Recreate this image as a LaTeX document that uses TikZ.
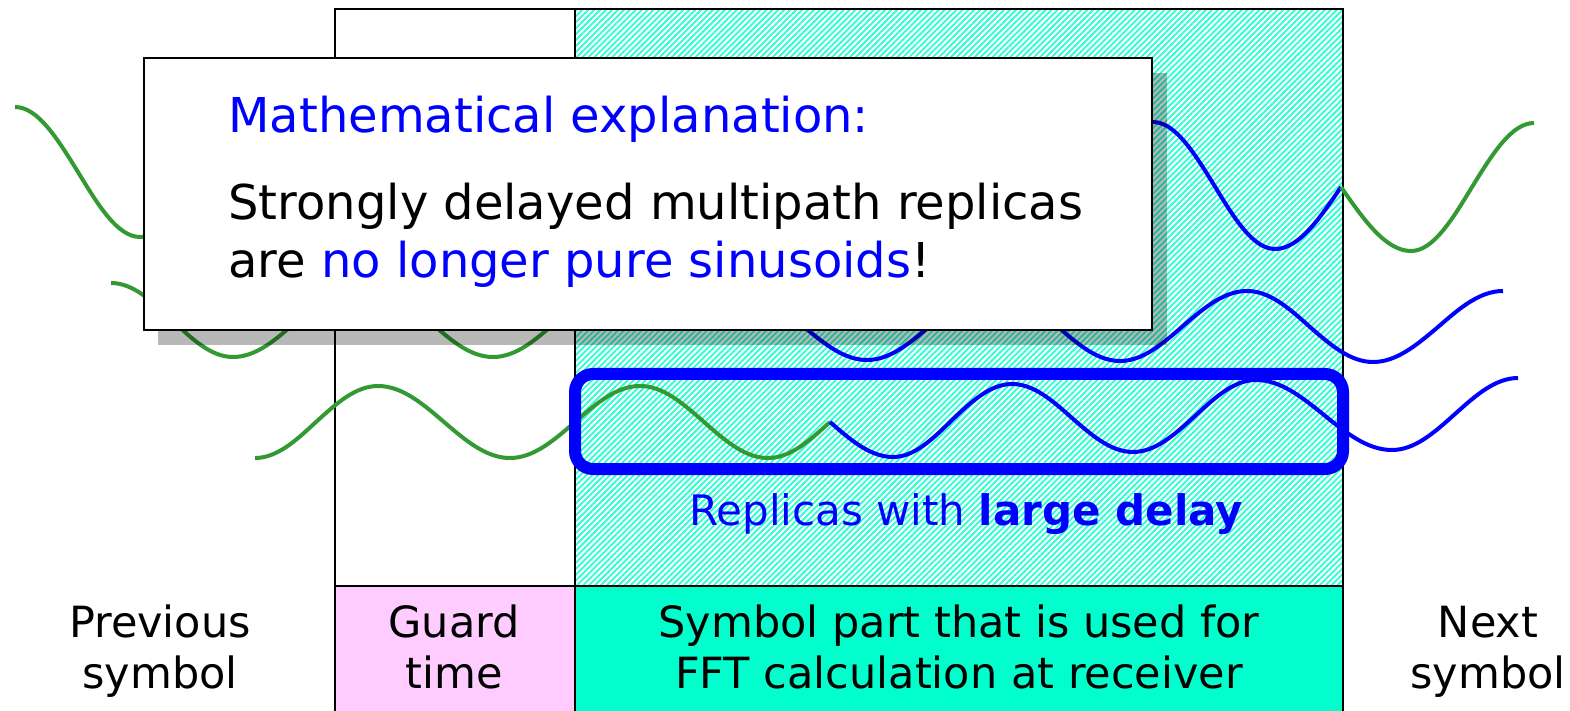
\documentclass[tikz,border=0pt]{standalone}
\usepackage{fontspec}
\setmainfont{DejaVu Sans}
\usetikzlibrary{patterns.meta}
\definecolor{wgreen}{RGB}{51,153,51}
\definecolor{hatchc}{RGB}{40,255,210}
\definecolor{fftgreen}{RGB}{0,255,204}
\definecolor{guardpink}{RGB}{255,204,255}
\begin{document}
\begin{tikzpicture}[x=0.5pt,y=-0.5pt,
  wave/.style={line width=2pt, line join=round},
  gwave/.style={wave, draw=wgreen},
  bwave/.style={wave, draw=blue},
  frame/.style={line width=1pt, draw=black},
  bigtext/.style={font=\fontsize{24}{29}\selectfont, inner sep=0pt, anchor=base west},
  lbl/.style={font=\fontsize{21.5}{25.5}\selectfont, align=center, inner sep=0pt, anchor=base},
]
\useasboundingbox (0,0) rectangle (1570,711);
% hatched FFT window
\fill[white] (575,9) rectangle (1343,586);
\fill[pattern={Lines[angle=45,distance=2.1pt,line width=0.9pt]}, pattern color=hatchc] (575,9) rectangle (1343,586);
% bottom label boxes
\fill[guardpink] (335,586) rectangle (575,711);
\fill[fftgreen] (575,586) rectangle (1343,711);
% frame lines
\draw[frame] (335,711) -- (335,9) -- (1343,9) -- (1343,711);
\draw[frame] (575,9) -- (575,711);
\draw[frame] (335,586) -- (1343,586);
% top row
\draw[gwave] (15,107) cos (78,172) sin (140,237) cos (203,172);
\draw[bwave] (1092,185) sin (1153,122) cos (1214,185) sin (1275,249) cos (1341,187);
\draw[gwave] (1341,187) sin (1411,251) cos (1472,187) sin (1534,123);
% middle row
\draw[gwave] (111,283) cos (172,320) sin (233,357) cos (298,320) sin (363,283) cos (428,320) sin (493,357) cos (558,320) sin (623,283) cos (688,320);
\draw[bwave] (688,320) sin (740,291) cos (803,326) sin (867,360) cos (930,326) sin (994,291) cos (1057,326) sin (1120,361) cos (1183,326) sin (1247,291) cos (1310,327) sin (1373,362) cos (1438,327) sin (1503,291);
% bottom row
\draw[gwave] (255,458) cos (316,422) sin (378,386) cos (444,422) sin (510,458) cos (575,422) sin (640,386) cos (704,422) sin (768,458) cos (830,422);
\draw[bwave] (830,422) sin (893,457) cos (952,420) sin (1012,384) cos (1072,418) sin (1133,452) cos (1195,416) sin (1256,380) cos (1324,415) sin (1392,450) cos (1455,414) sin (1518,378);
% highlight of large-delay replica
\draw[blue, line width=6pt, rounded corners=9pt] (575,374) rectangle (1343,469);
% explanation box with shadow
\fill[black, opacity=0.28] (158,73) rectangle (1167,345);
\node[draw=black, fill=white, line width=1.2pt, inner sep=0pt, anchor=north west,
      minimum width=504pt, minimum height=136pt] (expl) at (143,57) {};
\node[bigtext, text=blue] (title) at (228,133) {Mathematical explanation:};
\node[bigtext] (line1) at (228,220) {Strongly delayed multipath replicas};
\node[bigtext] (line2) at (228,278) {are \textcolor{blue}{no longer pure sinusoids}!};
% labels
\node[font=\fontsize{21}{25}\selectfont, text=blue, inner sep=0pt, anchor=base] (rep) at (966,525) {Replicas with \textbf{large delay}};
\node[lbl] (prev) at (160,688) {Previous\\symbol};
\node[lbl] (guard) at (454,688) {Guard\\time};
\node[lbl] (fft) at (959,688) {Symbol part that is used for\\FFT calculation at receiver};
\node[lbl] (next) at (1488,688) {Next\\symbol};
\end{tikzpicture}
\end{document}
